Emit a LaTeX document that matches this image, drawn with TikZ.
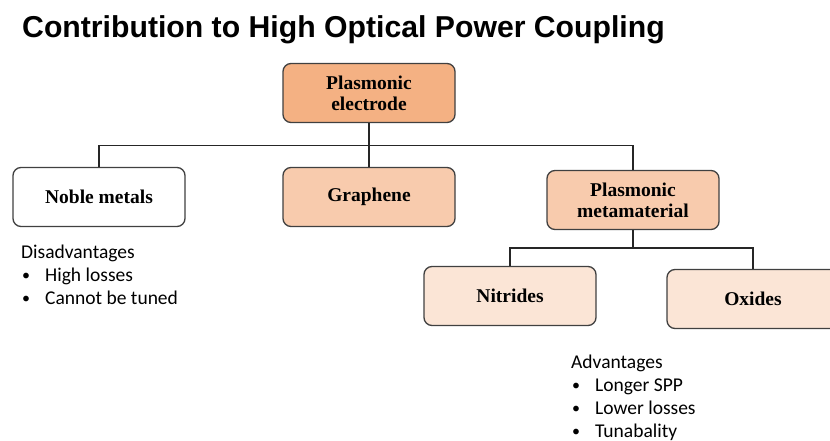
\documentclass[tikz,border=0pt]{standalone}
\usepackage{fontspec}
\usepackage{xcolor}
\setmainfont{Liberation Serif}
\newfontfamily\titlefont{Liberation Sans}
\newfontfamily\notefont{Carlito}
\definecolor{deeporange}{HTML}{F4B183}
\definecolor{midorange}{HTML}{F8CBAD}
\definecolor{paleorange}{HTML}{FBE5D6}
\definecolor{boxline}{HTML}{404040}

\begin{document}
\begin{tikzpicture}[x=1pt, y=-1pt,
    catbox/.style={draw=boxline, line width=1.3pt, rounded corners=8pt, rectangle,
      minimum width=172pt, minimum height=59pt, align=center,
      font=\fontsize{19.5}{21}\selectfont\bfseries},
    link/.style={draw=black!85, line width=1.3pt},
    note/.style={anchor=base west, inner sep=0pt, font=\fontsize{19.5}{23}\selectfont\notefont},
    dot/.style={note, font=\fontsize{16}{23}\selectfont\notefont}]
  \useasboundingbox (0,0) rectangle (830,441);

  \node [anchor=base west, inner sep=0pt, font=\fontsize{30.2}{34}\selectfont\titlefont\bfseries] (title) at (22,38) {Contribution to High Optical Power Coupling};

  \node [catbox, fill=deeporange] (electrode) at (369,93) {Plasmonic\\electrode};

  \node [catbox, fill=white] (noble) at (99,197) {Noble metals};
  \node [catbox, fill=midorange] (graphene) at (369,197) {Graphene};
  \node [catbox, fill=midorange] (meta) at (633,200) {Plasmonic\\metamaterial};

  \node [catbox, fill=paleorange] (nitrides) at (510,296) {Nitrides};
  \node [catbox, fill=paleorange] (oxides) at (753,299) {Oxides};

  \draw[link] (electrode) -- (graphene);
  \draw[link] (noble.north) -- ++(0,-21) -| (meta.north);
  \draw[link] (meta.south) -- ++(0,18);
  \draw[link] (nitrides.north) -- ++(0,-18) -| (oxides.north);

  \node [note] (disadv) at (21,258) {Disadvantages};
  \node [dot] (dbul1) at (22,280) {\textbullet};
  \node [note] (dtxt1) at (45,281) {High losses};
  \node [dot] (dbul2) at (22,303) {\textbullet};
  \node [note] (dtxt2) at (45,304) {Cannot be tuned};

  \node [note] (adv) at (571,368) {Advantages};
  \node [dot] (abul1) at (572,390) {\textbullet};
  \node [note] (atxt1) at (595,391) {Longer SPP};
  \node [dot] (abul2) at (572,413) {\textbullet};
  \node [note] (atxt2) at (595,414) {Lower losses};
  \node [dot] (abul3) at (572,436) {\textbullet};
  \node [note] (atxt3) at (595,437) {Tunabality};
\end{tikzpicture}
\end{document}
